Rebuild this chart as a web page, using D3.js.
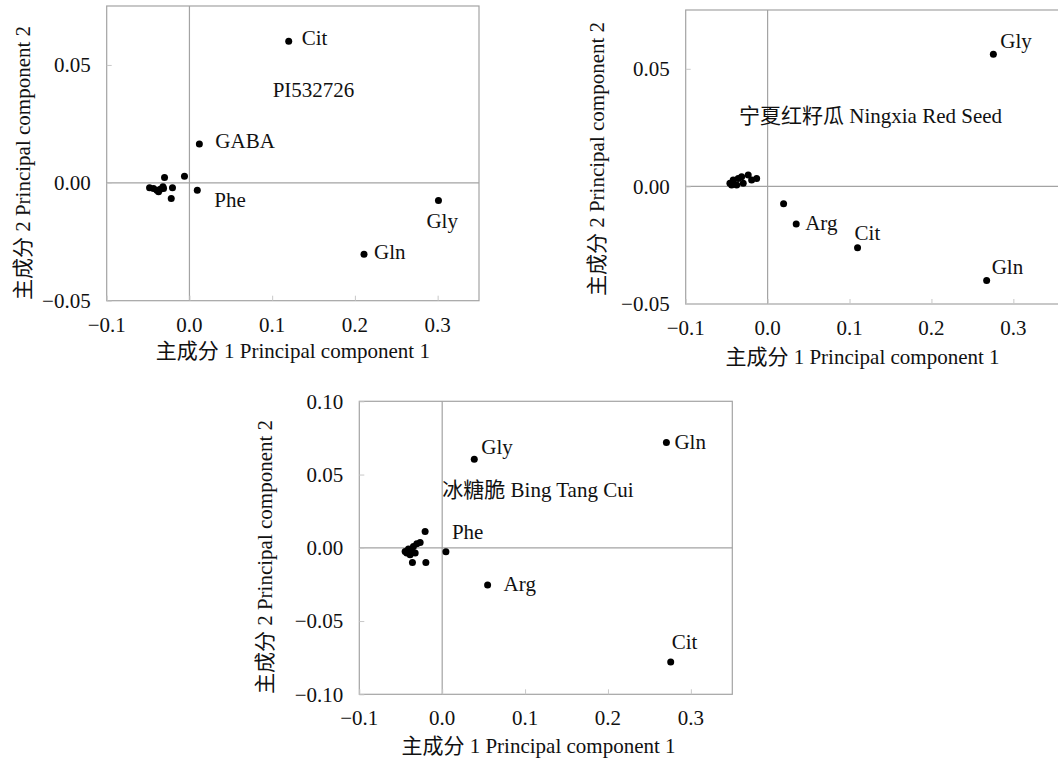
<!DOCTYPE html>
<html lang="zh">
<head>
<meta charset="UTF-8">
<title>PCA</title>
<style>
  body { margin: 0; background: #fff; }
  svg text { font-family: "Liberation Serif", "Times New Roman", "Noto Sans CJK SC", serif; fill: #111; }
</style>
</head>
<body>
<svg id="SVG"></svg>
<script src="https://cdn.jsdelivr.net/npm/d3@7"></script>
<script>
// ---- data: principal component scores ----
var pi_pc1 = [-0.0482, -0.0434, -0.0393, -0.0353, -0.0320, -0.0373, -0.0313, -0.0301, -0.0060, -0.0205, -0.0220, 0.0095, 0.012, 0.12, 0.301, 0.211];
var pi_pc2 = [-0.0021, -0.0024, -0.0031, -0.0027, -0.0017, -0.0038, -0.0024, 0.0023, 0.0028, -0.0021, -0.0066, -0.0031, 0.0165, 0.060, -0.0075, -0.0303];
var pi_lab = ["", "", "", "", "", "", "", "", "", "", "", "Phe", "GABA", "Cit", "Gly", "Gln"];

var nx_pc1 = [-0.046, -0.042, -0.0359, -0.0317, -0.0237, -0.0195, -0.0134, -0.0378, -0.0298, -0.0439, 0.0195, 0.0349, 0.1098, 0.2674, 0.2756];
var nx_pc2 = [0.0013, 0.0027, 0.0034, 0.0041, 0.0048, 0.0027, 0.0034, 0.0006, 0.0013, 0.0006, -0.0074, -0.016, -0.0261, -0.040, 0.0562];
var nx_lab = ["", "", "", "", "", "", "", "", "", "", "", "Arg", "Cit", "Gln", "Gly"];

var bt_pc1 = [-0.0206, -0.0266, -0.0306, -0.0347, -0.0407, -0.0427, -0.0387, -0.0326, -0.0359, -0.0197, -0.0447, -0.0366, 0.0045, 0.0387, 0.2705, 0.0548, 0.2757];
var bt_pc2 = [0.0111, 0.0036, 0.0027, 0.0009, -0.0009, -0.0036, -0.0048, -0.0036, -0.0100, -0.0100, -0.0025, -0.0018, -0.0027, 0.0605, 0.0718, -0.0254, -0.078];
var bt_lab = ["", "", "", "", "", "", "", "", "", "", "", "", "Phe", "Gly", "Gln", "Arg", "Cit"];

var x_ticks = [-0.1, 0.0, 0.1, 0.2, 0.3];
var y_ticks_a = [-0.05, 0.00, 0.05];
var y_ticks_b = [-0.10, -0.05, 0.00, 0.05, 0.10];

var x_title = "主成分 1 Principal component 1";
var y_title = "主成分 2 Principal component 2";

// ---- layout ----
var width = 1058, height = 764;
var fs = 21;
var svg = d3.select("#SVG").attr("width", width).attr("height", height);

var panels = [
  { name: "PI532726", pc1: pi_pc1, pc2: pi_pc2, lab: pi_lab,
    xd: [-0.1, 0.35], yd: [-0.05, 0.075], yt: y_ticks_a,
    l: 106.7, r: 479, t: 6, b: 300.7,
    title: [272.7, 97.3], ytitle: [23, 163], xtitleY: 358,
    off: { Cit: [13, 4], GABA: [16, 4], Phe: [17, 17], Gly: [-12, 27], Gln: [10, 5] } },
  { name: "宁夏红籽瓜 Ningxia Red Seed", pc1: nx_pc1, pc2: nx_pc2, lab: nx_lab,
    xd: [-0.1, 0.36], yd: [-0.05, 0.075], yt: y_ticks_a,
    l: 685.7, r: 1062.5, t: 10, b: 304,
    title: [739, 123.3], ytitle: [597, 159], xtitleY: 364, xtitleX: 862.5,
    off: { Gly: [7, -6], Arg: [9, 6], Cit: [-3, -8], Gln: [5, -6] } },
  { name: "冰糖脆 Bing Tang Cui", pc1: bt_pc1, pc2: bt_pc2, lab: bt_lab,
    xd: [-0.1, 0.35], yd: [-0.1, 0.1], yt: y_ticks_b,
    l: 359.3, r: 732.3, t: 401.3, b: 694.3,
    title: [442.3, 496.7], ytitle: [265, 557], xtitleY: 753.3, xtitleX: 538.5,
    off: { Gly: [7, -5], Gln: [8, 6], Phe: [6, -13], Arg: [16, 6], Cit: [1, -13] } }
];

var gray = "#a3a3a3";
var fmtX = v => (v < 0 ? "\u2212" : "") + Math.abs(v).toFixed(1);
var fmtY = v => (Math.abs(v) < 1e-9 ? "0.00" : (v < 0 ? "\u2212" : "") + Math.abs(v).toFixed(2));

panels.forEach(function (p) {
  var x = d3.scaleLinear().domain(p.xd).range([p.l, p.r]);
  var y = d3.scaleLinear().domain(p.yd).range([p.b, p.t]);
  var g = svg.append("g");

  // frame
  g.append("rect")
    .attr("x", p.l).attr("y", p.t)
    .attr("width", p.r - p.l).attr("height", p.b - p.t)
    .attr("fill", "none").attr("stroke", gray).attr("stroke-width", 1.2);

  // zero lines
  g.append("line").attr("x1", x(0)).attr("x2", x(0)).attr("y1", p.t).attr("y2", p.b)
    .attr("stroke", gray).attr("stroke-width", 1.2);
  g.append("line").attr("x1", p.l).attr("x2", p.r).attr("y1", y(0)).attr("y2", y(0))
    .attr("stroke", gray).attr("stroke-width", 1.2);

  // axes with short inward ticks
  var ax = g.append("g").attr("transform", `translate(0,${p.b})`)
    .call(d3.axisTop(x).tickValues(x_ticks).tickSize(5).tickFormat(""));
  ax.select(".domain").remove();
  ax.selectAll("line").attr("stroke", "#c8c8c8");
  var ay = g.append("g").attr("transform", `translate(${p.l},0)`)
    .call(d3.axisRight(y).tickValues(p.yt).tickSize(5).tickFormat(""));
  ay.select(".domain").remove();
  ay.selectAll("line").attr("stroke", "#c8c8c8");

  // tick labels
  g.selectAll(".xl").data(x_ticks).enter().append("text")
    .attr("x", d => x(d)).attr("y", p.b + 31)
    .attr("text-anchor", "middle").attr("font-size", fs)
    .text(fmtX);
  g.selectAll(".yl").data(p.yt).enter().append("text")
    .attr("x", p.l - 16).attr("y", d => y(d))
    .attr("dy", "0.35em")
    .attr("text-anchor", "end").attr("font-size", fs)
    .text(fmtY);

  // axis titles
  g.append("text")
    .attr("x", p.xtitleX || (p.l + p.r) / 2).attr("y", p.xtitleY)
    .attr("text-anchor", "middle").attr("font-size", fs)
    .text(x_title);
  g.append("text")
    .attr("transform", `translate(${p.ytitle[0]},${p.ytitle[1]}) rotate(-90)`)
    .attr("dy", "0.35em")
    .attr("text-anchor", "middle").attr("font-size", fs)
    .text(y_title);

  // points
  var pts = p.pc1.map((v, i) => ({ pc1: v, pc2: p.pc2[i], lab: p.lab[i] }));
  g.selectAll("circle").data(pts).enter().append("circle")
    .attr("cx", d => x(d.pc1)).attr("cy", d => y(d.pc2))
    .attr("r", 3.5).attr("fill", "#000");

  // point labels
  g.selectAll(".pl").data(pts.filter(d => d.lab)).enter().append("text")
    .attr("x", d => x(d.pc1) + p.off[d.lab][0])
    .attr("y", d => y(d.pc2) + p.off[d.lab][1])
    .attr("font-size", fs)
    .text(d => d.lab);

  // panel name
  g.append("text")
    .attr("x", p.title[0]).attr("y", p.title[1])
    .attr("font-size", fs)
    .text(p.name);
});
</script>
</body>
</html>
